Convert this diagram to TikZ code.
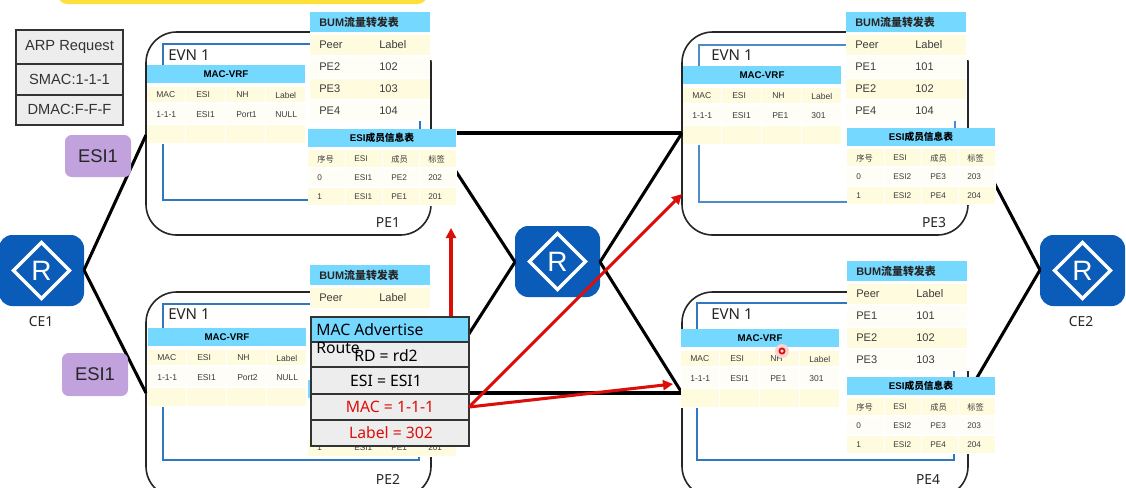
\documentclass[tikz,border=0pt]{standalone}
\usepackage{fontspec}
\setmainfont{Liberation Sans}
\newfontfamily\cjk{Noto Sans CJK SC}
\newfontfamily\uifont{Noto Sans}
\usetikzlibrary{shapes.geometric,arrows.meta}
\definecolor{headblue}{HTML}{75D8FF}
\definecolor{bandy}{HTML}{FFFBDF}
\definecolor{bandp}{HTML}{FFFEF6}
\definecolor{routerblue}{HTML}{0A5CB8}
\definecolor{framebl}{HTML}{2F78BE}
\definecolor{esipurple}{HTML}{C2A2DC}
\definecolor{pktgrey}{HTML}{EDEDED}
\definecolor{arrowred}{HTML}{DC0E0A}
\definecolor{notice}{HTML}{FFDF3A}
\definecolor{celltext}{HTML}{3C3C3C}
\tikzset{
  pxbox/.style={rectangle,inner sep=0pt,outer sep=0pt},
  pebox/.style={pxbox,draw=black!85,line width=1.2pt,rounded corners=23pt,fill=white},
  evibox/.style={pxbox,draw=framebl,line width=1.3pt,fill=white},
  head/.style={pxbox,fill=headblue},
  backing/.style={pxbox,fill=white},
  divider/.style={white,line width=0.4pt},
  link/.style={line width=2.3pt,black},
  redlink/.style={line width=2.3pt,arrowred},
  redarrow/.style={redlink,-{Triangle[length=7.5pt,width=7.5pt]}},
  esitag/.style={pxbox,fill=esipurple,rounded corners=5pt,text=black!85,font=\fontsize{13.8}{15}\selectfont},
  pktrow/.style={pxbox,fill=pktgrey,draw=black!80,line width=1.1pt},
  arprow/.style={pktrow,font=\fontsize{11}{13}\selectfont,text=black!80},
  pkttext/.style={inner sep=0pt,font=\uifont\fontsize{11.8}{14}\selectfont},
  devlabel/.style={inner sep=0pt,text=black!85,font=\uifont\fontsize{10.4}{12}\selectfont},
  evnlabel/.style={inner sep=0pt,anchor=west,text=black!85,font=\uifont\fontsize{11.3}{13}\selectfont},
  router/.style={pxbox,fill=routerblue,rounded corners=10pt},
  routermark/.style={diamond,draw=white,line width=2.5pt,inner sep=0pt,aspect=1,text=white,font=\fontsize{21}{24}\selectfont},
  bumcell/.style={inner sep=0pt,anchor=west,text=celltext,font=\fontsize{8.3}{10}\selectfont},
  maccell/.style={inner sep=0pt,anchor=west,text=celltext,font=\fontsize{6.4}{8}\selectfont},
  esicell/.style={inner sep=0pt,anchor=west,text=celltext,font=\fontsize{6.2}{8}\selectfont},
  headtext/.style={inner sep=0pt,text=black!85,font=\bfseries\fontsize{8.2}{9}\selectfont},
}
% Filled rectangle given by its pixel corners: name, style, x1, y1, x2, y2, text
\newcommand\pxrect[7]{%
  \node[#2,minimum width={((#5)-(#3))*0.75pt},minimum height={((#6)-(#4))*0.75pt}] (#1)
    at ({((#3)+(#5))/2},{((#4)+(#6))/2}) {#7};}
% Router icon: name, centre x, centre y, half width, half height
\newcommand\routericon[5]{%
  \pxrect{#1}{router}{#2-#4}{#3-#5}{#2+#4}{#3+#5}{}
  \node[routermark,minimum size=43pt] (#1-mark) at (#1.center) {R};}
% Forwarding table: name, x, y, then three peer/label pairs
\newcommand\bumtable[9]{%
  \pxrect{#1-head}{head}{#2}{#3}{#2+120}{#3+20}{}
  \node[headtext,anchor=west] (#1-title) at ({#2+9},{#3+10}) {BUM{\cjk\bfseries 流量转发表}};
  \pxrect{#1-b1}{pxbox,fill=bandy}{#2}{#3+23}{#2+120}{#3+43}{}
  \pxrect{#1-b2}{pxbox,fill=bandp}{#2}{#3+45}{#2+120}{#3+65}{}
  \pxrect{#1-b3}{pxbox,fill=bandy}{#2}{#3+67}{#2+120}{#3+87}{}
  \pxrect{#1-b4}{pxbox,fill=bandp}{#2}{#3+89}{#2+120}{#3+109}{}
  \node[bumcell] (#1-p0) at ({#2+9},{#3+33}) {Peer};
  \node[bumcell] (#1-l0) at ({#2+69},{#3+33}) {Label};
  \node[bumcell] (#1-p1) at ({#2+9},{#3+55}) {#4};
  \node[bumcell] (#1-l1) at ({#2+69},{#3+55}) {#5};
  \node[bumcell] (#1-p2) at ({#2+9},{#3+77}) {#6};
  \node[bumcell] (#1-l2) at ({#2+69},{#3+77}) {#7};
  \node[bumcell] (#1-p3) at ({#2+9},{#3+99}) {#8};
  \node[bumcell] (#1-l3) at ({#2+69},{#3+99}) {#9};}
% MAC table: name, x, y, then the four cells of its entry
\newcommand\mactable[7]{%
  \pxrect{#1-back}{backing}{#2}{#3}{#2+158}{#3+79}{}
  \pxrect{#1-head}{head}{#2}{#3}{#2+158}{#3+18}{\bfseries\fontsize{7.3}{9}\selectfont MAC-VRF}
  \pxrect{#1-b1}{pxbox,fill=bandy}{#2}{#3+22}{#2+158}{#3+37}{}
  \pxrect{#1-b2}{pxbox,fill=bandp}{#2}{#3+39}{#2+158}{#3+58}{}
  \pxrect{#1-b3}{pxbox,fill=bandy}{#2}{#3+60}{#2+158}{#3+78}{}
  \foreach \cut in {38,78,118}{\draw[divider] ({#2+\cut},{#3+22}) -- ({#2+\cut},{#3+78});}
  \node[maccell] (#1-c1) at ({#2+9},{#3+30}) {MAC};
  \node[maccell] (#1-c2) at ({#2+49},{#3+30}) {ESI};
  \node[maccell] (#1-c3) at ({#2+89},{#3+30}) {NH};
  \node[maccell] (#1-c4) at ({#2+128},{#3+30}) {Label};
  \node[maccell] (#1-v1) at ({#2+9},{#3+50}) {#4};
  \node[maccell] (#1-v2) at ({#2+49},{#3+50}) {#5};
  \node[maccell] (#1-v3) at ({#2+89},{#3+50}) {#6};
  \node[maccell] (#1-v4) at ({#2+128},{#3+50}) {#7};}
% Member table: name, x, y, then the segment, two members and two labels
\newcommand\esitable[8]{%
  \pxrect{#1-back}{backing}{#2}{#3}{#2+149}{#3+77}{}
  \pxrect{#1-head}{head}{#2}{#3}{#2+148}{#3+18}{\bfseries\fontsize{7.3}{9}\selectfont ESI{\cjk\bfseries 成员信息表}}
  \pxrect{#1-b1}{pxbox,fill=bandy}{#2}{#3+21}{#2+148}{#3+38}{}
  \pxrect{#1-b2}{pxbox,fill=bandp}{#2}{#3+40}{#2+148}{#3+57}{}
  \pxrect{#1-b3}{pxbox,fill=bandy}{#2}{#3+59}{#2+148}{#3+76}{}
  \foreach \cut in {37,74,111}{\draw[divider] ({#2+\cut},{#3+21}) -- ({#2+\cut},{#3+76});}
  \node[esicell] (#1-c1) at ({#2+9},{#3+30}) {\cjk 序号};
  \node[esicell] (#1-c2) at ({#2+46},{#3+30}) {ESI};
  \node[esicell] (#1-c3) at ({#2+83},{#3+30}) {\cjk 成员};
  \node[esicell] (#1-c4) at ({#2+120},{#3+30}) {\cjk 标签};
  \esirow{#1-r}{#2}{#3}{#4}{#5}{#6}{#7}{#8}}
\newcommand\esirow[8]{%
  \node[esicell] (#1a0) at ({#2+9},{#3+49}) {0};
  \node[esicell] (#1b0) at ({#2+46},{#3+49}) {#4};
  \node[esicell] (#1c0) at ({#2+83},{#3+49}) {#5};
  \node[esicell] (#1d0) at ({#2+120},{#3+49}) {#6};
  \node[esicell] (#1a1) at ({#2+9},{#3+68}) {1};
  \node[esicell] (#1b1) at ({#2+46},{#3+68}) {#4};
  \node[esicell] (#1c1) at ({#2+83},{#3+68}) {#7};
  \node[esicell] (#1d1) at ({#2+120},{#3+68}) {#8};}
\begin{document}
\begin{tikzpicture}[x=0.75pt,y=-0.75pt]
\useasboundingbox (0,0) rectangle (1126,487);
\clip (0,0) rectangle (1126,487);
\fill[white] (0,0) rectangle (1126,487);

% Notice strip cut by the top edge
\pxrect{strip}{pxbox,fill=notice,rounded corners=7pt}{58}{-20}{427}{4}{}

% Devices
\routericon{ce1}{41.5}{270.5}{42.5}{35.5}
\routericon{core}{557.5}{261.5}{42.5}{35.5}
\routericon{ce2}{1082.5}{270.5}{42.5}{35.5}
\node[devlabel] (ce1-name) at (41,322) {CE1};
\node[devlabel] (ce2-name) at (1081,322) {CE2};

% Provider edge frames
\pxrect{pe1}{pebox}{146}{32}{431}{235}{}
\pxrect{pe2}{pebox}{146}{292}{431}{497}{}
\pxrect{pe3}{pebox}{682}{32}{968}{235}{}
\pxrect{pe4}{pebox}{682}{292}{968}{497}{}

% Attachment points on the frames
\coordinate (pe1-w) at (146,135);
\coordinate (pe1-e) at (431,133);
\coordinate (pe2-w) at (146,393);
\coordinate (pe2-e) at (431,393);
\coordinate (pe3-w) at (682,133);
\coordinate (pe3-e) at (968,133);
\coordinate (pe4-w) at (682,393);
\coordinate (pe4-e) at (968,393);
\coordinate (ce1-e) at (84,270);
\coordinate (ce2-w) at (1040,270);
\coordinate (core-w) at (515,262);
\coordinate (core-e) at (600,262);

% Access and core links
\draw[link] (ce1-e) -- (pe1-w);
\draw[link] (ce1-e) -- (pe2-w);
\draw[link] (ce2-w) -- (pe3-e);
\draw[link] (ce2-w) -- (pe4-e);
\draw[link] (pe1-e) -- (pe3-w);
\draw[link] (pe2-e) -- (pe4-w);
\draw[link] (pe1-e) -- (core-w);
\draw[link] (pe2-e) -- (core-w);
\draw[link] (pe3-w) -- (core-e);
\draw[link] (pe4-w) -- (core-e);

% EVPN instance frames
\pxrect{evi1}{evibox}{163}{44}{420}{200}{}
\pxrect{evi2}{evibox}{163}{304}{419}{460}{}
\pxrect{evi3}{evibox,draw=framebl!85}{699}{45}{955}{202}{}
\pxrect{evi4}{evibox}{697}{303}{954}{460}{}
\node[evnlabel] (evn1) at (168,55) {EVN 1};
\node[evnlabel] (evn2) at (168,314) {EVN 1};
\node[evnlabel] (evn3) at (711,55) {EVN 1};
\node[evnlabel] (evn4) at (711,314) {EVN 1};
\node[devlabel] (pe1-name) at (388,223) {PE1};
\node[devlabel] (pe2-name) at (388,479.5) {PE2};
\node[devlabel] (pe3-name) at (934,223) {PE3};
\node[devlabel] (pe4-name) at (928,479.5) {PE4};

% White ground of the forwarding tables, wide enough to hide the frame corners
\pxrect{bum1-back}{backing}{310}{8}{434}{60}{}
\pxrect{bum1-body}{backing}{310}{60}{430}{121}{}
\pxrect{bum2-back}{backing}{310}{262}{434}{320}{}
\pxrect{bum3-back}{backing}{846}{8}{971}{60}{}
\pxrect{bum3-body}{backing}{846}{60}{966}{121}{}
\pxrect{bum4-back}{backing}{847}{258}{971}{371}{}

% Tables of each edge device
\bumtable{bum1}{310}{12}{PE2}{102}{PE3}{103}{PE4}{104}
\bumtable{bum2}{310}{265}{}{}{}{}{}{}
\bumtable{bum3}{846}{12}{PE1}{101}{PE2}{102}{PE4}{104}
\bumtable{bum4}{847}{261}{PE1}{101}{PE2}{102}{PE3}{103}
\mactable{mac1}{147}{65}{1-1-1}{ESI1}{Port1}{NULL}
\mactable{mac2}{148}{328}{1-1-1}{ESI1}{Port2}{NULL}
\mactable{mac3}{683}{66}{1-1-1}{ESI1}{PE1}{301}
\mactable{mac4}{681}{329}{1-1-1}{ESI1}{PE1}{301}
\esitable{esi1}{308}{129}{ESI1}{PE2}{202}{PE1}{201}
\pxrect{esi2-back}{backing}{308}{380}{457}{457}{}
\pxrect{esi2-head}{head}{308}{380}{456}{398}{}
\pxrect{esi2-b3}{pxbox,fill=bandy}{308}{439}{456}{456}{}
\node[esicell] (esi2-a) at (317,448) {1};
\node[esicell] (esi2-b) at (354,448) {ESI1};
\node[esicell] (esi2-c) at (391,448) {PE1};
\node[esicell] (esi2-d) at (428,448) {201};
\esitable{esi3}{847}{128}{ESI2}{PE3}{203}{PE4}{204}
\esitable{esi4}{847}{377}{ESI2}{PE3}{203}{PE4}{204}

% Pointer mark
\fill[arrowred!18] (782,351) circle (7);
\draw[arrowred,line width=1.3pt] (782,351) circle (2.6);

% Segment tags
\pxrect{tag1}{esitag}{65}{135}{131}{177}{ESI1}
\pxrect{tag2}{esitag}{62}{353}{128}{396}{ESI1}

% Flooded ARP request
\pxrect{arp1}{arprow}{16}{30}{123}{64}{\raisebox{-1.6pt}{ARP Request}}
\pxrect{arp2}{arprow}{16}{64}{123}{95}{SMAC:1-1-1}
\pxrect{arp3}{arprow}{16}{95}{123}{125}{\raisebox{1.2pt}{DMAC:F-F-F}}

% Route advertisement
\coordinate (adv-up) at (451,317);
\coordinate (tip-pe1) at (451,228);
\coordinate (tip-pe3) at (682,194);
\coordinate (tip-pe4) at (673,384);
\draw[redarrow] (adv-up) -- (tip-pe1);
\pxrect{adv0}{pktrow,fill=headblue}{311}{317}{469}{342}{}
\pxrect{adv1}{pktrow}{311}{342}{469}{367}{}
\pxrect{adv2}{pktrow}{311}{367}{469}{394}{}
\pxrect{adv3}{pktrow}{311}{394}{469}{420}{}
\pxrect{adv4}{pktrow}{311}{420}{469}{446}{}
\node[pkttext] (adv1-t) at (386,356) {RD = rd2};
\node[pkttext] (adv2-t) at (386,381) {ESI = ESI1};
\node[pkttext,text=arrowred] (adv3-t) at (390,407) {MAC = 1-1-1};
\node[pkttext,text=arrowred] (adv4-t) at (391,433) {Label = 302};
\node[pkttext,anchor=north west,align=left,font=\uifont\fontsize{11.8}{13.5}\selectfont] (adv0-t) at (316,323) {MAC Advertise\\Route};
\draw[redarrow] (adv3.east) -- (tip-pe3);
\draw[redarrow] (adv3.east) -- (tip-pe4);
\end{tikzpicture}
\end{document}
